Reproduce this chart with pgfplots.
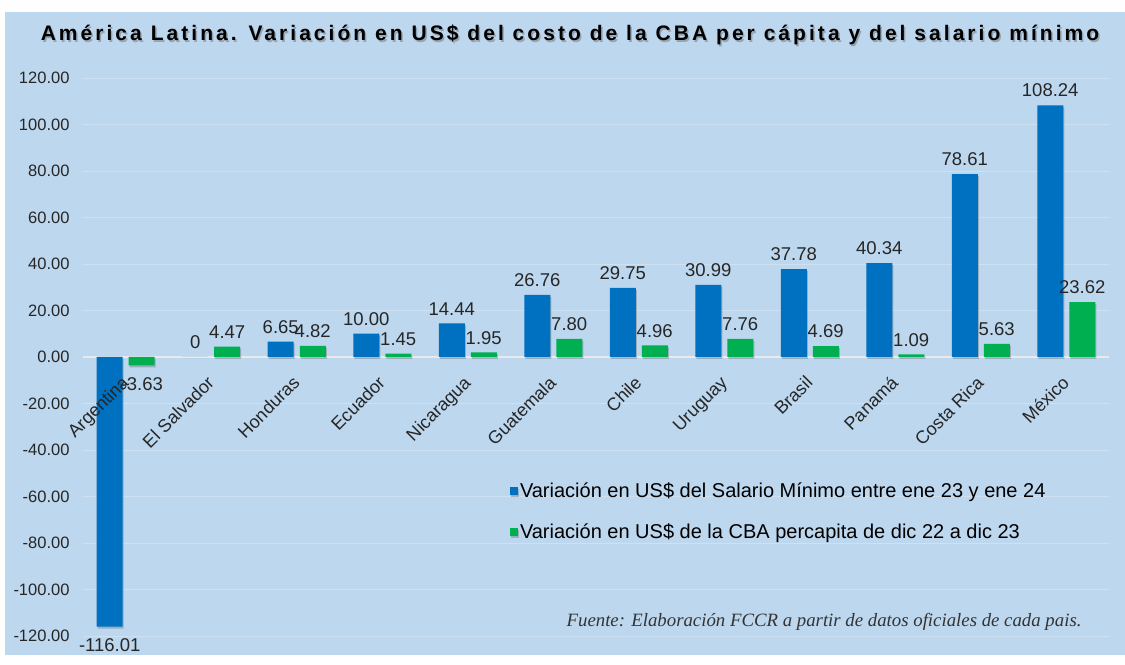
\documentclass[border=0pt]{standalone}
\usepackage{pgfplots}
\pgfplotsset{compat=1.18}
\usepackage{pgfplotstable}
\usepackage{fontspec}
\setmainfont{Liberation Sans}
\newfontfamily\serifit{Liberation Serif}
\definecolor{bg}{RGB}{189,215,238}
\definecolor{barblue}{RGB}{0,112,192}
\definecolor{bargreen}{RGB}{0,176,80}
\definecolor{offwhite}{RGB}{254,254,254}

\pgfplotstableread{
x sal cba lsal lcba
0 -116.01 -3.63 {} {}
1 0 4.47 0 4.47
2 6.65 4.82 6.65 4.82
3 10.00 1.45 10.00 1.45
4 14.44 1.95 14.44 1.95
5 26.76 7.80 26.76 7.80
6 29.75 4.96 29.75 4.96
7 30.99 7.76 30.99 7.76
8 37.78 4.69 37.78 4.69
9 40.34 1.09 40.34 1.09
10 78.61 5.63 78.61 5.63
11 108.24 23.62 108.24 23.62
}\datatable

\newcommand{\titletext}{América Latina. Variación en US\$ del costo de la CBA per cápita y del salario mínimo}

\begin{document}
\begin{tikzpicture}
\fill[offwhite] (-83pt,-19pt) rectangle (1042pt,636pt);
\fill[bg] (-78pt,-19pt) rectangle (1042pt,624pt);
\node[text=black!60, opacity=0.45, font=\bfseries\fontsize{21}{24}\selectfont\addfontfeature{LetterSpace=14.5}] at (488.5pt,599.5pt) {\titletext};
\node[font=\bfseries\fontsize{21}{24}\selectfont\addfontfeature{LetterSpace=14.5}] at (487pt,601pt) {\titletext};
\begin{axis}[
  at={(0pt,0pt)}, anchor=south west,
  scale only axis, width=1026pt, height=558pt,
  xmin=-0.5, xmax=11.5, ymin=-120, ymax=120,
  ybar, bar width=26pt,
  axis line style={draw=none},
  major tick length=0pt,
  xtick=\empty,
  ytick={-120,-100,...,120},
  yticklabel style={font=\fontsize{16.5}{18}\selectfont, text=black!85, xshift=-10pt},
  /pgf/number format/assume math mode=true,
  /pgf/number format/.cd, fixed, fixed zerofill, precision=2, /pgfplots/.cd,
  ymajorgrids, grid style={white, opacity=0.25},
  extra y ticks={0}, extra y tick labels={},
  extra y tick style={grid style={white!85!gray, opacity=0.9, line width=1.2pt}},
  nodes near coords, point meta=explicit symbolic,
  every node near coord/.append style={font=\fontsize{18.5}{20}\selectfont, text=black!85, inner ysep=8pt, inner xsep=0pt},
  legend style={at={(0.416,0.278)}, anchor=north west, draw=none, fill=none,
    font=\fontsize{20}{22}\selectfont, row sep=20pt, cells={anchor=west}, inner sep=0pt},
  legend image code/.code={\fill[#1] (0pt,-4pt) rectangle (8pt,4pt);},
  clip=false,
]
\addplot[fill=barblue, draw=none, bar shift=-16pt,
  preaction={fill=black!70, fill opacity=0.3, transform canvas={xshift=1pt, yshift=-2pt}}] table[x=x, y=sal, meta=lsal] {\datatable};
\addlegendentry{Variación en US\$ del Salario Mínimo entre ene 23 y ene 24}
\addplot[fill=bargreen, draw=none, bar shift=16pt,
  preaction={fill=black!70, fill opacity=0.3, transform canvas={xshift=1pt, yshift=-2pt}}] table[x=x, y=cba, meta=lcba] {\datatable};
\addlegendentry{Variación en US\$ de la CBA percapita de dic 22 a dic 23}
% labels of the negative values, placed below the bar ends
\addplot[draw=none, fill=none, bar shift=-16pt, forget plot,
  every node near coord/.append style={anchor=north, inner ysep=12pt}] coordinates {(0,-116.01) [-116.01]};
\addplot[draw=none, fill=none, bar shift=16pt, forget plot,
  every node near coord/.append style={anchor=north, inner ysep=12pt}] coordinates {(0,-3.63) [-3.63]};
\begin{scope}[every node/.style={anchor=base east, inner sep=0pt, rotate=45, font=\fontsize{18}{20}\selectfont, text=black!85}]
\node at (axis cs:0.047,-11.6) {Argentina};
\node at (axis cs:1.047,-11.6) {El Salvador};
\node at (axis cs:2.047,-11.6) {Honduras};
\node at (axis cs:3.047,-11.6) {Ecuador};
\node at (axis cs:4.047,-11.6) {Nicaragua};
\node at (axis cs:5.047,-11.6) {Guatemala};
\node at (axis cs:6.047,-11.6) {Chile};
\node at (axis cs:7.047,-11.6) {Uruguay};
\node at (axis cs:8.047,-11.6) {Brasil};
\node at (axis cs:9.047,-11.6) {Panamá};
\node at (axis cs:10.047,-11.6) {Costa Rica};
\node at (axis cs:11.047,-11.6) {México};
\end{scope}
\end{axis}
\node[anchor=east, font=\serifit\itshape\fontsize{18.8}{22}\selectfont, text=black!80] at (1002pt,14pt) {Fuente: Elaboración FCCR a partir de datos oficiales de cada pais.};
\end{tikzpicture}
\end{document}
